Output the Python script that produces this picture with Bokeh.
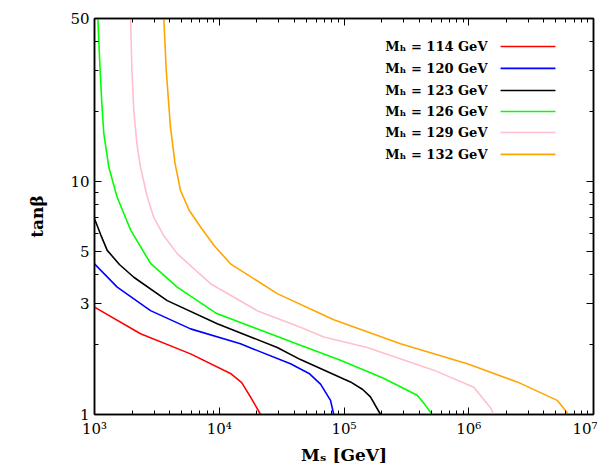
import numpy as np
from bokeh.plotting import figure
from bokeh.models import LogAxis, FixedTicker, Range1d
from bokeh.core.properties import value
from bokeh.embed import file_html
from bokeh.resources import INLINE

masses = ["114", "120", "123", "126", "129", "132"]
colors = ["#ff0000", "#0000ff", "#000000", "#00ff00", "#ffc0cb", "#ffa500"]
# log10(Ms), tan(beta)
lx_114 = [3.0, 3.369, 3.77, 4.09, 4.18, 4.25, 4.30, 4.331]
tb_114 = [2.89, 2.22, 1.82, 1.5, 1.37, 1.19, 1.07, 1.0]
lx_120 = [3.0, 3.182, 3.449, 3.77, 4.17, 4.571, 4.72, 4.812, 4.892, 4.918]
tb_120 = [4.43, 3.52, 2.79, 2.33, 2.01, 1.65, 1.50, 1.35, 1.15, 1.0]
lx_123 = [3.0, 3.05, 3.102, 3.2, 3.315, 3.583, 3.984, 4.465, 4.651, 4.998, 5.052, 5.15, 5.212, 5.293]
tb_123 = [6.92, 5.9, 5.06, 4.4, 3.88, 3.08, 2.45, 1.94, 1.72, 1.42, 1.38, 1.28, 1.19, 1.0]
lx_126 = [3.027, 3.045, 3.06, 3.075, 3.115, 3.18, 3.289, 3.449, 3.663, 3.98, 4.651, 4.972, 5.317, 5.587, 5.65, 5.707]
tb_126 = [50, 30, 21, 16, 11.5, 8.6, 6.2, 4.45, 3.52, 2.71, 1.98, 1.71, 1.43, 1.21, 1.10, 1.0]
lx_129 = [3.289, 3.30, 3.315, 3.34, 3.369, 3.42, 3.475, 3.56, 3.663, 3.93, 4.304, 4.651, 4.838, 5.186, 5.72, 6.04, 6.174, 6.2]
tb_129 = [50, 30, 20.2, 14.5, 11.5, 8.7, 7.0, 5.8, 4.9, 3.64, 2.79, 2.37, 2.15, 1.94, 1.55, 1.31, 1.07, 1.0]
lx_132 = [3.556, 3.575, 3.609, 3.645, 3.689, 3.76, 3.85, 3.96, 4.09, 4.465, 4.918, 5.453, 5.988, 6.388, 6.709, 6.80]
tb_132 = [50, 30, 17.1, 12.0, 9.15, 7.5, 6.37, 5.3, 4.43, 3.3, 2.55, 2.01, 1.65, 1.38, 1.15, 1.0]
series_x = [lx_114, lx_120, lx_123, lx_126, lx_129, lx_132]
series_y = [tb_114, tb_120, tb_123, tb_126, tb_129, tb_132]

FONT = "DejaVu Serif"
p = figure(width=597, height=468, x_axis_type="log", y_axis_type="log",
           x_range=Range1d(1e3, 1e7), y_range=Range1d(1, 50),
           output_backend="svg", toolbar_location=None,
           min_border_left=94, min_border_right=4, min_border_top=18, min_border_bottom=54)
p.grid.visible = False
p.outline_line_color = "black"
p.outline_line_width = 1.5

for lx, ty, c in zip(series_x, series_y, colors):
    p.line(10 ** np.array(lx), ty, line_color=c, line_width=1.6)

leg_y = 10 ** np.array([1.579, 1.485, 1.39, 1.30, 1.21, 1.116])
for m, c, yy in zip(masses, colors, leg_y):
    p.text(x=[10 ** 6.15], y=[yy], text=[f"Mₕ = {m} GeV"], text_align="right",
           text_baseline="middle", text_font=value(FONT), text_font_style="bold",
           text_font_size="13px", text_color="black")
    p.line([10 ** 6.255, 10 ** 6.695], [yy, yy], line_color=c, line_width=1.6)

xt = [1e3, 1e4, 1e5, 1e6, 1e7]
xminor = [k * 10 ** e for e in range(3, 7) for k in range(2, 10)]
yt = [1, 3, 5, 10, 50]
yminor = [2, 3, 4, 5, 6, 7, 8, 9, 20, 30, 40]

def style(ax, ticks, minor):
    ax.ticker = FixedTicker(ticks=ticks, minor_ticks=minor)
    ax.major_tick_in = 7
    ax.major_tick_out = 0
    ax.minor_tick_in = 4
    ax.minor_tick_out = 0
    ax.axis_line_width = 1.5
    ax.major_label_text_font = FONT
    ax.major_label_text_font_size = "15px"
    ax.major_label_text_color = "black"
    ax.axis_label_text_font = FONT
    ax.axis_label_text_font_style = "bold"
    ax.axis_label_text_font_size = "17px"
    ax.axis_label_text_color = "black"

style(p.xaxis[0], xt, xminor)
p.xaxis[0].major_label_overrides = {1e3: "10³", 1e4: "10⁴", 1e5: "10⁵", 1e6: "10⁶", 1e7: "10⁷"}
p.xaxis[0].axis_label = "Mₛ [GeV]"
p.xaxis[0].axis_label_standoff = 4
style(p.yaxis[0], yt, yminor)
p.yaxis[0].major_label_overrides = {1: "1", 3: "3", 5: "5", 10: "10", 50: "50"}
p.yaxis[0].axis_label = "tanβ"
p.yaxis[0].axis_label_standoff = 20

top = LogAxis()
style(top, xt, xminor)
top.major_label_text_color = None
top.major_label_standoff = 0
p.add_layout(top, "above")
right = LogAxis()
style(right, yt, yminor)
right.major_label_text_color = None
right.major_label_standoff = 0
p.add_layout(right, "right")

open("out.html", "w").write(file_html(p, INLINE))
